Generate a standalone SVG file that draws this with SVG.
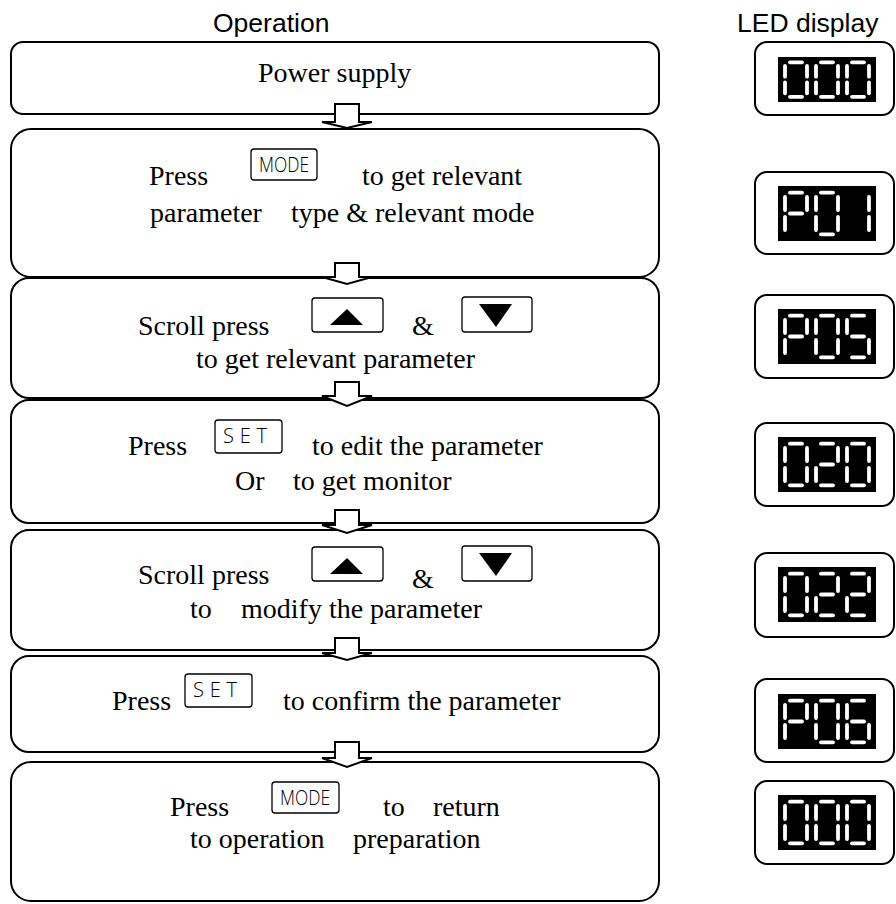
<svg xmlns="http://www.w3.org/2000/svg" xmlns:xlink="http://www.w3.org/1999/xlink" width="896" height="904" viewBox="0 0 896 904">
<style>
.bg{fill:#fff}
.box{fill:#fff;stroke:#000;stroke-width:2}
.t{font-family:"Liberation Serif","Times New Roman",serif;font-size:28px;fill:#000}
.h{font-family:"Liberation Sans",Arial,sans-serif;font-size:26.5px;fill:#000}
.btn{fill:#fff;stroke:#000;stroke-width:1.3}
.bt{font-family:"Open Sans","DejaVu Sans",sans-serif;font-weight:300;font-size:20px;fill:#000}
.tri{fill:#000}
.arr{fill:#fff;stroke:#000;stroke-width:2;stroke-linejoin:miter}
.frame{fill:#fff;stroke:#000;stroke-width:2}
.scr{fill:#000}
.seg{fill:none;stroke:#fff;stroke-width:3.8;stroke-linecap:round;vector-effect:non-scaling-stroke}
</style>
<defs>
<path id="sa" class="seg" d="M7 2.2H19"/>
<path id="sb" class="seg" d="M24 6.5V19.5"/>
<path id="sc" class="seg" d="M24 26.5V39.5"/>
<path id="sd" class="seg" d="M7 43.8H19"/>
<path id="se" class="seg" d="M2 26.5V39.5"/>
<path id="sf" class="seg" d="M2 6.5V19.5"/>
<path id="sg" class="seg" d="M7 23H19"/>
<g id="d0"><use xlink:href="#sa"/><use xlink:href="#sb"/><use xlink:href="#sc"/><use xlink:href="#sd"/><use xlink:href="#se"/><use xlink:href="#sf"/></g>
<g id="d1"><use xlink:href="#sb"/><use xlink:href="#sc"/></g>
<g id="d2"><use xlink:href="#sa"/><use xlink:href="#sb"/><use xlink:href="#sg"/><use xlink:href="#se"/><use xlink:href="#sd"/></g>
<g id="d5"><use xlink:href="#sa"/><use xlink:href="#sf"/><use xlink:href="#sg"/><use xlink:href="#sc"/><use xlink:href="#sd"/></g>
<g id="d6"><use xlink:href="#sa"/><use xlink:href="#sf"/><use xlink:href="#sg"/><use xlink:href="#se"/><use xlink:href="#sc"/><use xlink:href="#sd"/></g>
<g id="dP"><use xlink:href="#sa"/><use xlink:href="#sb"/><use xlink:href="#sf"/><use xlink:href="#sg"/><use xlink:href="#se"/></g>
</defs>
<rect class="bg" x="0" y="0" width="896" height="904"/>

<text class="h" x="213" y="32">Operation</text>
<text class="h" x="737" y="32">LED display</text>

<g id="step1">
<rect class="box" x="11" y="42" width="648" height="72" rx="12"/>
<text class="t" x="258" y="82">Power supply</text>
</g>

<g id="step2">
<rect class="box" x="11" y="129" width="648" height="148" rx="20"/>
<text class="t" x="149" y="185">Press</text>
<rect class="btn" x="251" y="149" width="66" height="31" rx="3"/>
<text class="bt" x="259" y="172" textLength="50" lengthAdjust="spacingAndGlyphs">MODE</text>
<text class="t" x="362" y="185">to get relevant</text>
<text class="t" x="150" y="222">parameter</text>
<text class="t" x="291" y="222">type &amp; relevant mode</text>
</g>

<g id="step3">
<rect class="box" x="11" y="278" width="648" height="120" rx="18"/>
<text class="t" x="138" y="335">Scroll press</text>
<rect class="btn" x="312" y="298" width="71" height="34" rx="3"/>
<polygon class="tri" points="330,325 363,325 347,309"/>
<text class="t" x="412" y="335">&amp;</text>
<rect class="btn" x="462" y="297" width="70" height="35" rx="3"/>
<polygon class="tri" points="479,304 512,304 496,327"/>
<text class="t" x="196" y="368">to get relevant parameter</text>
</g>

<g id="step4">
<rect class="box" x="11" y="400" width="648" height="123" rx="18"/>
<text class="t" x="128" y="455">Press</text>
<rect class="btn" x="215" y="420" width="67" height="33" rx="3"/>
<text class="bt" x="223" y="443" textLength="44" lengthAdjust="spacing">SET</text>
<text class="t" x="312" y="455">to edit the parameter</text>
<text class="t" x="235" y="490">Or</text>
<text class="t" x="293" y="490">to get monitor</text>
</g>

<g id="step5">
<rect class="box" x="11" y="530" width="648" height="120" rx="18"/>
<text class="t" x="138" y="584">Scroll press</text>
<rect class="btn" x="312" y="547" width="71" height="34" rx="3"/>
<polygon class="tri" points="330,574 363,574 347,558"/>
<text class="t" x="412" y="588">&amp;</text>
<rect class="btn" x="462" y="546" width="70" height="35" rx="3"/>
<polygon class="tri" points="479,553 512,553 496,576"/>
<text class="t" x="190" y="618">to</text>
<text class="t" x="241" y="618">modify the parameter</text>
</g>

<g id="step6">
<rect class="box" x="11" y="656" width="648" height="96" rx="18"/>
<text class="t" x="112" y="710">Press</text>
<rect class="btn" x="185" y="674" width="67" height="33" rx="3"/>
<text class="bt" x="193" y="697" textLength="44" lengthAdjust="spacing">SET</text>
<text class="t" x="283" y="710">to confirm the parameter</text>
</g>

<g id="step7">
<rect class="box" x="11" y="762" width="648" height="139" rx="20"/>
<text class="t" x="170" y="816">Press</text>
<rect class="btn" x="272" y="782" width="67" height="31" rx="3"/>
<text class="bt" x="280" y="805" textLength="50" lengthAdjust="spacingAndGlyphs">MODE</text>
<text class="t" x="383" y="816">to</text>
<text class="t" x="433" y="816">return</text>
<text class="t" x="190" y="848">to operation</text>
<text class="t" x="353" y="848">preparation</text>
</g>

<g id="connectors">
<path class="arr" d="M335 104V122H322L347 128L372 122H359V104Z"/>
<path class="arr" d="M335 263V277H322L347 284L372 277H359V263Z"/>
<path class="arr" d="M335 382V396H322L347 406L372 396H359V382Z"/>
<path class="arr" d="M335 510V525H322L347 533L372 525H359V510Z"/>
<path class="arr" d="M335 638V653H322L347 660L372 653H359V638Z"/>
<path class="arr" d="M335 742V758H322L347 767L372 758H359V742Z"/>
</g>

<g id="led1">
<rect class="frame" x="755" y="42" width="139" height="73" rx="12"/>
<rect class="scr" x="778" y="57" width="98" height="45"/>
<use xlink:href="#d0" transform="translate(783 60.5) scale(1 0.83)"/>
<use xlink:href="#d0" transform="translate(814 60.5) scale(1 0.83)"/>
<use xlink:href="#d0" transform="translate(845 60.5) scale(1 0.83)"/>
</g>
<g id="led2">
<rect class="frame" x="755" y="172" width="139" height="82" rx="12"/>
<rect class="scr" x="778" y="186" width="98" height="55"/>
<use xlink:href="#dP" transform="translate(783 190.5)"/>
<use xlink:href="#d0" transform="translate(814 190.5)"/>
<use xlink:href="#d1" transform="translate(845 190.5)"/>
</g>
<g id="led3">
<rect class="frame" x="755" y="295" width="139" height="83" rx="12"/>
<rect class="scr" x="778" y="309" width="98" height="55"/>
<use xlink:href="#dP" transform="translate(783 313.5)"/>
<use xlink:href="#d0" transform="translate(814 313.5)"/>
<use xlink:href="#d5" transform="translate(845 313.5)"/>
</g>
<g id="led4">
<rect class="frame" x="755" y="423" width="139" height="83" rx="12"/>
<rect class="scr" x="778" y="437" width="98" height="55"/>
<use xlink:href="#d0" transform="translate(783 441.5)"/>
<use xlink:href="#d2" transform="translate(814 441.5)"/>
<use xlink:href="#d0" transform="translate(845 441.5)"/>
</g>
<g id="led5">
<rect class="frame" x="755" y="553" width="139" height="84" rx="12"/>
<rect class="scr" x="778" y="567" width="98" height="55"/>
<use xlink:href="#d0" transform="translate(783 571.5)"/>
<use xlink:href="#d2" transform="translate(814 571.5)"/>
<use xlink:href="#d2" transform="translate(845 571.5)"/>
</g>
<g id="led6">
<rect class="frame" x="755" y="679" width="139" height="83" rx="12"/>
<rect class="scr" x="778" y="694" width="98" height="55"/>
<use xlink:href="#dP" transform="translate(783 698.5)"/>
<use xlink:href="#d0" transform="translate(814 698.5)"/>
<use xlink:href="#d6" transform="translate(845 698.5)"/>
</g>
<g id="led7">
<rect class="frame" x="755" y="781" width="139" height="83" rx="12"/>
<rect class="scr" x="778" y="795" width="98" height="55"/>
<use xlink:href="#d0" transform="translate(783 799.5)"/>
<use xlink:href="#d0" transform="translate(814 799.5)"/>
<use xlink:href="#d0" transform="translate(845 799.5)"/>
</g>
</svg>
